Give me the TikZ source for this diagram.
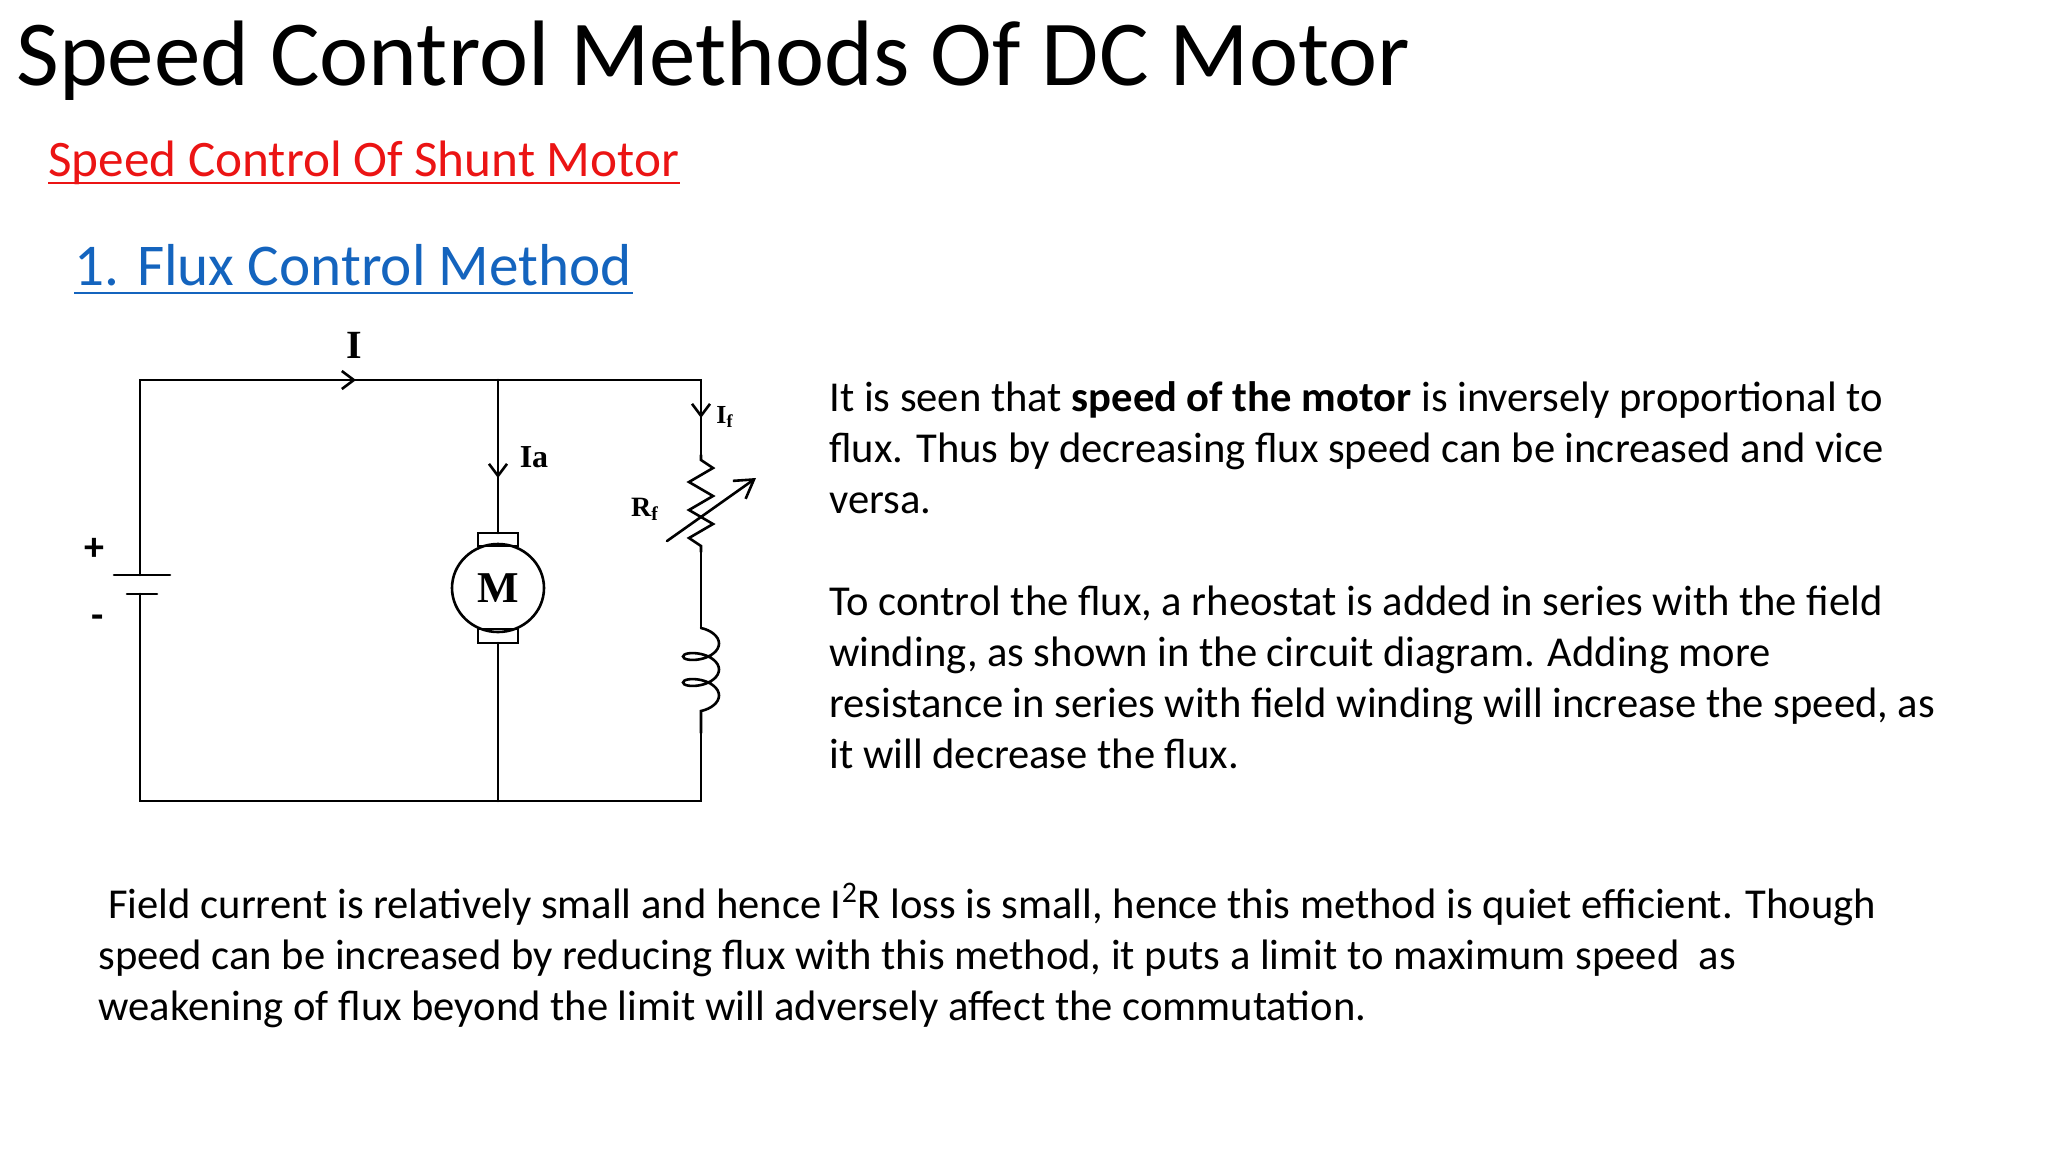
\documentclass[tikz,border=0pt]{standalone}
\usepackage{fontspec}
\setmainfont{Carlito}
\newfontfamily\serifb{Liberation Serif}
\usetikzlibrary{decorations.pathmorphing,arrows.meta}
\definecolor{redt}{RGB}{235,20,20}
\definecolor{bluet}{RGB}{20,100,190}
\tikzset{
  txt/.style={anchor=base west,inner sep=0,font=\fontsize{21.3}{24}\selectfont},
  wire/.style={line width=1.3pt,line cap=round},
  lbl/.style={inner sep=0,font=\serifb\bfseries\fontsize{16}{18}\selectfont},
  cur/.style={-{Straight Barb[length=6pt,width=9pt]}}
}
\begin{document}
\begin{tikzpicture}[x=0.5pt,y=-0.5pt]
\useasboundingbox[fill=white] (0,0) rectangle (2048,1152);
% titles
\node[txt,font=\fontsize{46.5}{50}\selectfont] (title) at (16,85) {Speed Control Methods Of DC Motor};
\node[txt,font=\fontsize{25.6}{30}\selectfont,text=redt] (sub) at (48,176) {Speed Control Of Shunt Motor};
\draw[redt,line width=1.4pt] ([yshift=-3.5pt]sub.base west) -- ([yshift=-3.5pt]sub.base east);
\node[txt,font=\fontsize{29.6}{34}\selectfont,text=bluet] (meth) at (74,285) {1. Flux Control Method};
\draw[bluet,line width=1.4pt] ([yshift=-4pt]meth.base west) -- ([yshift=-4pt]meth.base east);
% right paragraph
\node[txt] (p1) at (829,411) {It is seen that \textbf{speed of the motor} is inversely proportional to};
\node[txt] (p2) at (829,462) {flux. Thus by decreasing flux speed can be increased and vice};
\node[txt] (p3) at (829,513) {versa.};
\node[txt] (p4) at (829,615) {To control the flux, a rheostat is added in series with the field};
\node[txt] (p5) at (829,666) {winding, as shown in the circuit diagram. Adding more};
\node[txt] (p6) at (829,717) {resistance in series with field winding will increase the speed, as};
\node[txt] (p7) at (829,768) {it will decrease the flux.};
% bottom paragraph
\node[txt] (b1) at (108,918) {Field current is relatively small and hence I\textsuperscript{2}R loss is small, hence this method is quiet efficient. Though};
\node[txt] (b2) at (98,969) {speed can be increased by reducing flux with this method, it puts a limit to maximum speed\ \ as};
\node[txt] (b3) at (98,1020) {weakening of flux beyond the limit will adversely affect the commutation.};
% circuit coordinates
\coordinate (tl) at (140,380); \coordinate (tm) at (498,380); \coordinate (tr) at (701,380);
\coordinate (bl) at (140,801); \coordinate (bm) at (498,801); \coordinate (br) at (701,801);
\coordinate (bp) at (140,575); \coordinate (bn) at (140,594);
\coordinate (r0) at (701,455); \coordinate (r1) at (701,552);
\coordinate (l0) at (701,628); \coordinate (l1) at (701,733);
\coordinate (ma) at (498,533); \coordinate (mb) at (498,643);
% wires
\draw[wire] (bp) -- (tl) -- (tm) -- (tr) -- (r0);
\draw[wire] (bn) -- (bl) -- (bm) -- (br) -- (l1);
\draw[wire] (tm) -- (ma);
\draw[wire] (mb) -- (bm);
\draw[wire] (r1) -- (l0);
% battery
\draw[wire] (114,575) -- (170,575);
\draw[wire] (127,594) -- (157,594);
\node[inner sep=0,font=\fontsize{20}{22}\selectfont\bfseries] (plus) at (94,549) {+};
\node[inner sep=0,font=\fontsize{20}{22}\selectfont\bfseries] (minus) at (98,622) {-};
% current arrows
\draw[wire,cur] (320,380) -- (356,380);
\node[lbl,font=\serifb\bfseries\fontsize{20}{22}\selectfont] (I) at (354,345) {I};
\draw[wire,cur] (498,450) -- (498,478);
\node[lbl] (Ia) at (534,457) {Ia};
\draw[wire,cur] (701,395) -- (701,418);
\node[lbl,font=\serifb\bfseries\fontsize{13}{15}\selectfont] (If) at (725,417) {I\textsubscript{f}};
% motor
\draw[wire] (478,533) rectangle (518,546);
\draw[wire] (478,629) rectangle (518,643);
\draw[wire] (498,588) ellipse (46 and 44);
\node[lbl,font=\serifb\bfseries\fontsize{22}{24}\selectfont] (M) at (498,588) {M};
% resistor
\draw[wire] (r0) -- (701,460) -- (713,468) -- (689,482) -- (713,496) -- (689,510) -- (713,524) -- (689,538) -- (701,546) -- (r1);
\draw[wire,-{Straight Barb[length=9pt,width=11pt]}] (667,541) -- (756,478);
\node[lbl,font=\serifb\bfseries\fontsize{14}{16}\selectfont] (Rf) at (645,509) {R\textsubscript{f}};
% field coil
\draw[wire,decorate,decoration={coil,amplitude=9pt,segment length=13pt,aspect=0.5}] (l0) -- (l1);
\end{tikzpicture}
\end{document}
